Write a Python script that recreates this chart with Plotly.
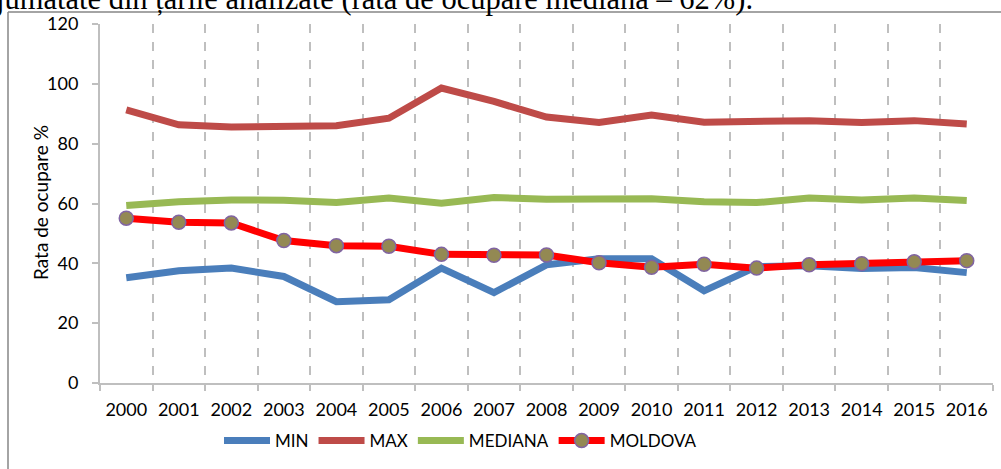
import plotly.graph_objects as go

years = [str(y) for y in range(2000, 2017)]
min_vals = [35.2, 37.5, 38.4, 35.6, 27.2, 27.8, 38.4, 30.2, 39.5, 41.5, 41.5, 30.8, 38.9, 39.2, 38.3, 38.6, 36.9]
max_vals = [91.3, 86.3, 85.6, 86.0, 86.0, 88.5, 98.6, 94.1, 88.9, 87.1, 89.6, 87.2, 87.4, 87.7, 87.1, 87.7, 86.6]
median_vals = [59.3, 60.6, 61.2, 61.1, 60.3, 61.8, 60.1, 62.0, 61.4, 61.4, 61.6, 60.6, 60.3, 61.8, 61.2, 61.8, 61.0]
moldova_vals = [55.1, 53.7, 53.5, 47.6, 45.9, 45.7, 43.0, 42.7, 42.8, 40.2, 38.7, 39.7, 38.4, 39.5, 39.9, 40.5, 40.9]
y_ticks = [0, 20, 40, 60, 80, 100, 120]

FONT = "Lato"
GRID = "#BFBFBF"

fig = go.Figure()
fig.add_trace(go.Scatter(x=years, y=min_vals, name="MIN", mode="lines",
                         line=dict(color="#4A7EBB", width=7)))
fig.add_trace(go.Scatter(x=years, y=max_vals, name="MAX", mode="lines",
                         line=dict(color="#BE4B48", width=7)))
fig.add_trace(go.Scatter(x=years, y=median_vals, name="MEDIANA", mode="lines",
                         line=dict(color="#98B954", width=7)))
fig.add_trace(go.Scatter(x=years, y=moldova_vals, name="MOLDOVA", mode="lines+markers",
                         line=dict(color="#FF0000", width=7),
                         marker=dict(size=14, color="#938953",
                                     line=dict(color="#8064A2", width=1.5))))

W, H = 1001, 469
L, R, T, B = 100, 8, 24, 86
pw, ph = W - L - R, H - T - B

def px2x(p):
    return (p - L) / pw

def py2y(p):
    return (H - B - p) / ph

fig.update_layout(
    width=W, height=H,
    margin=dict(l=L, r=R, t=T, b=B, autoexpand=False),
    paper_bgcolor="white", plot_bgcolor="white",
    font=dict(family=FONT, size=18, color="black"),
    showlegend=True,
    legend=dict(orientation="h", x=px2x(219), xanchor="left",
                y=py2y(441), yanchor="middle",
                font=dict(family=FONT, size=17), itemwidth=46,
                tracegroupgap=0, bgcolor="rgba(0,0,0,0)"),
    xaxis=dict(type="category", range=[-0.5, len(years) - 0.5],
               tickson="boundaries", showgrid=True,
               gridcolor=GRID, griddash="dash", gridwidth=1.5,
               showline=True, linecolor=GRID, linewidth=2,
               ticks="outside", ticklen=6, tickcolor=GRID, tickwidth=1.5,
               tickangle=0, automargin=False,
               tickfont=dict(family=FONT, size=18), ticklabelstandoff=9,
               fixedrange=True),
    yaxis=dict(range=[0, 120], tickvals=y_ticks, showgrid=False, zeroline=False,
               showline=True, linecolor=GRID, linewidth=2, automargin=False,
               ticks="outside", ticklen=6, tickcolor=GRID, tickwidth=1.5,
               tickfont=dict(family=FONT, size=18), ticklabelstandoff=10,
               fixedrange=True),
    shapes=[
        dict(type="line", xref="paper", yref="paper",
             x0=px2x(8), x1=px2x(1010), y0=py2y(12), y1=py2y(12),
             line=dict(color="#868686", width=1.5)),
        dict(type="line", xref="paper", yref="paper",
             x0=px2x(8), x1=px2x(8), y0=py2y(12), y1=py2y(480),
             line=dict(color="#868686", width=1.5)),
    ],
    annotations=[
        dict(text="jumătate din țările analizate (rata de ocupare mediană – 62%).",
             xref="paper", yref="paper", x=px2x(-7), xanchor="left",
             y=py2y(-0.5), yanchor="middle", showarrow=False,
             font=dict(family="Liberation Serif", size=30.5, color="black")),
        dict(text="Rata de ocupare %", textangle=-90,
             xref="paper", yref="paper", x=px2x(40), xanchor="center",
             y=py2y(203), yanchor="middle", showarrow=False,
             font=dict(family=FONT, size=19, color="black")),
    ],
)

fig.write_html("out.html", config={"displayModeBar": False},
               post_script="document.body.style.margin='0';document.body.style.overflow='hidden';")
